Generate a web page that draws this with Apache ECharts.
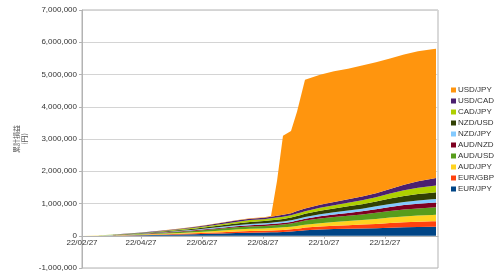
<!DOCTYPE html>
<html>
<head>
<meta charset="utf-8">
<script src="https://cdn.jsdelivr.net/npm/echarts@6/dist/echarts.min.js"></script>
<style>html,body{margin:0;padding:0;background:#fff}#c{width:500px;height:279px}</style>
</head>
<body>
<div id="c"></div>
<script>
// Sample dates
var dates = ['2022-02-27','2022-03-13','2022-03-27','2022-04-10','2022-04-24','2022-05-08','2022-05-22','2022-06-05','2022-06-19','2022-07-03','2022-07-17','2022-07-31','2022-08-14','2022-08-28','2022-09-04','2022-09-10','2022-09-16','2022-09-24','2022-09-30','2022-10-04','2022-10-08','2022-10-23','2022-11-06','2022-11-20','2022-12-04','2022-12-18','2023-01-01','2023-01-15','2023-01-29','2023-02-12','2023-02-16'];
// Cumulative P/L per pair, in thousands of yen
var eurJpy = [0,2,5,10,16,23,30,39,48,59,71,84,95,100,106,112,118,130,145,158,172,195,208,218,225,235,248,260,270,278,280];
var eurGbp = [0,1,3,6,9,13,17,22,27,33,40,47,52,55,58,60,63,68,73,76,80,90,100,110,120,132,145,155,162,168,170];
var audJpy = [0,1,4,8,12,17,22,28,35,42,51,60,67,70,73,76,79,83,87,89,92,105,115,126,140,155,170,183,193,200,202];
var audUsd = [0,2,5,9,14,20,26,33,40,49,59,69,72,75,79,83,87,95,110,118,128,145,155,165,175,190,205,215,223,228,230];
var audNzd = [0,1,2,4,6,9,12,15,19,23,28,33,40,45,47,49,51,54,56,57,58,70,80,90,100,112,125,137,145,150,151];
var nzdJpy = [0,1,2,4,6,9,12,15,19,23,28,33,38,40,42,44,46,49,52,54,55,62,68,74,80,88,95,100,103,105,106];
var nzdUsd = [0,1,4,8,11,16,20,27,32,40,49,57,65,70,73,76,79,84,90,94,98,110,120,130,140,150,168,185,198,208,210];
var cadJpy = [0,1,3,6,9,13,17,22,27,33,40,47,56,60,63,66,69,72,74,76,78,90,100,110,122,135,155,175,192,205,210];
var usdCad = [0,0,2,5,7,10,14,19,23,28,34,40,45,45,49,54,58,65,78,81,86,98,102,107,118,123,139,170,204,228,231];
var usdJpy = [0,1,2,3,4,5,6,8,9,10,11,12,14,15,20,1080,2450,2550,3080,3540,3990,4030,4050,4050,4060,4060,4050,4040,4030,4010,4010];
var pairNames = ['EUR/JPY','EUR/GBP','AUD/JPY','AUD/USD','AUD/NZD','NZD/JPY','NZD/USD','CAD/JPY','USD/CAD','USD/JPY'];
var pairValues = [eurJpy,eurGbp,audJpy,audUsd,audNzd,nzdJpy,nzdUsd,cadJpy,usdCad,usdJpy];
var pairColors = ['#004586','#ff420e','#ffd320','#579d1c','#7e0021','#83caff','#314004','#aecf00','#4b1f6f','#ff950e'];
var tickDates = ['2022-02-27','2022-04-27','2022-06-27','2022-08-27','2022-10-27','2022-12-27'];
var startDate = '2022-02-27', endDate = '2023-02-18';
var yTicks = {min:-1000000, max:7000000, interval:1000000};

function ts(s){var p=s.split('-');return Date.UTC(+p[0],+p[1]-1,+p[2]);}
function pad(n){return (n<10?'0':'')+n;}
function fmtDate(v){var d=new Date(v);return pad(d.getUTCFullYear()%100)+'/'+pad(d.getUTCMonth()+1)+'/'+pad(d.getUTCDate());}

var series = pairNames.map(function(name,i){
  return {
    name:name, type:'line', stack:'total', symbol:'none', silent:true,
    xAxisIndex:0,
    lineStyle:{width:0}, areaStyle:{color:pairColors[i],opacity:1},
    itemStyle:{color:pairColors[i]},
    data: dates.map(function(d,j){return [ts(d), pairValues[i][j]*1000];})
  };
});
var tickPos = tickDates.map(ts);
var axisCol = '#b3b3b3';
var gridTop = 10, gridBottom = 11, chartH = 279;
var gridH = chartH - gridTop - gridBottom;
// distance from the bottom of the plot up to the zero line
var zeroOffset = gridH * (0 - yTicks.min) / (yTicks.max - yTicks.min);

var chart = echarts.init(document.getElementById('c'), null, {renderer:'canvas'});
chart.setOption({
  animation:false,
  textStyle:{fontFamily:'Liberation Sans, Arial, sans-serif'},
  grid:{left:82,right:62,top:gridTop,bottom:gridBottom,show:true,borderColor:axisCol,borderWidth:1,backgroundColor:'transparent'},
  legend:{
    orient:'vertical', left:451, top:86, padding:0, itemWidth:5, itemHeight:5, itemGap:3,
    icon:'rect', data:pairNames.slice().reverse(),
    textStyle:{fontSize:8,color:'#333',fontFamily:'Liberation Sans, Arial, sans-serif',lineHeight:8,padding:[0,0,0,-3]}
  },
  xAxis:[{
    type:'time', min:ts(startDate), max:ts(endDate),
    axisLine:{onZero:true,lineStyle:{color:axisCol}},
    axisTick:{show:false}, axisLabel:{show:false}, splitLine:{show:false}
  },{
    type:'value', position:'bottom', offset:-zeroOffset, min:ts(startDate), max:ts(endDate),
    axisLine:{show:false,onZero:false},
    axisTick:{show:true,length:3,customValues:tickPos,lineStyle:{color:axisCol}},
    axisLabel:{customValues:tickPos,fontSize:8,color:'#333',margin:3,formatter:fmtDate},
    splitLine:{show:false}
  }],
  yAxis:{
    type:'value', min:yTicks.min, max:yTicks.max, interval:yTicks.interval,
    name:'累計損益\n(円)', nameLocation:'middle', nameGap:52, nameRotate:90,
    nameTextStyle:{fontSize:7,color:'#555',lineHeight:8,fontFamily:'Noto Sans CJK JP, sans-serif'},
    axisLine:{show:true,lineStyle:{color:axisCol}},
    axisTick:{show:true,length:3,lineStyle:{color:axisCol}},
    axisLabel:{fontSize:8,color:'#333',margin:5,formatter:function(v){return v.toLocaleString('en-US');}},
    splitLine:{show:true,lineStyle:{color:'#d4d4d4',width:1}}
  },
  series:series
});
</script>
</body>
</html>
